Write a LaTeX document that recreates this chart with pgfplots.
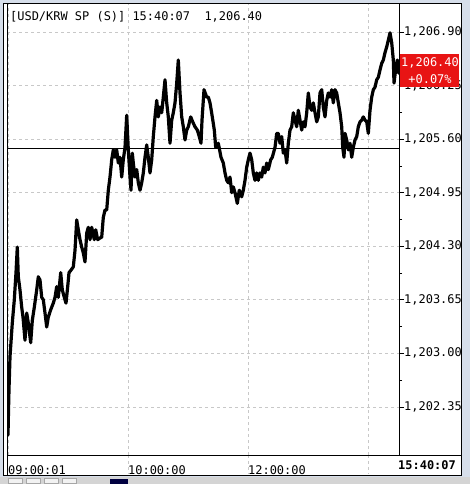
\documentclass[border=0pt]{standalone}
\usepackage{fontspec}
\setmainfont{DejaVu Sans Mono}
\usepackage{pgfplots}
\pgfplotsset{compat=1.18}
\definecolor{outerbg}{RGB}{214,222,234}
\definecolor{stripbg}{RGB}{212,212,212}
\definecolor{gridc}{RGB}{200,200,200}
\definecolor{boxred}{RGB}{232,20,20}
\begin{document}
\begin{tikzpicture}[x=1bp,y=1bp]
\fill[outerbg] (0,0) rectangle (470,484);
\fill[stripbg] (0,0) rectangle (470,7);
\foreach \xx in {8,26,44,62}{\draw[gray!70,line width=0.6bp,fill=white!90!gray] (\xx,0.5) rectangle (\xx+14,6);}
\fill[black!75!blue] (110,0) rectangle (128,5);
\fill[white] (3,8) rectangle (461,480);
\begin{scope}
\clip (3,8) rectangle (461,480);
\begin{axis}[
  at={(7bp,29bp)}, anchor=south west,
  scale only axis, width=392bp, height=451bp,
  xmin=7, xmax=399, ymin=1201.767, ymax=1207.240,
  clip=true,
  separate axis lines,
  axis x line*=bottom, axis y line*=right,
  axis line style={black, line width=0.9bp},
  xtick={8,128,248,368},
  xticklabels={09:00:01,10:00:00,12:00:00,{}},
  xtick style={draw=none},
  xticklabel style={anchor=west, inner sep=0pt, yshift=-10bp, xshift=0bp},
  ytick={1202.35,1203.00,1203.65,1204.30,1204.95,1205.60,1206.25,1206.90},
  minor ytick={1202.675,1203.325,1203.975,1204.625,1205.275,1205.925,1206.575},
  ytick pos=right,
  tick align=outside,
  major tick length=5bp,
  minor tick length=3bp,
  ytick style={black, line width=0.8bp},
  minor tick style={gray!60, line width=0.8bp},
  yticklabel style={anchor=west, inner sep=0pt, xshift=0bp},
  yticklabel pos=right,
  /pgf/number format/.cd, fixed, fixed zerofill, precision=2, 1000 sep={,}, assume math mode=true,
  /pgfplots/.cd,
  tick label style={font=\fontsize{12}{13}\selectfont},
  xmajorgrids, ymajorgrids,
  major grid style={gridc, dash pattern=on 3bp off 3bp, line width=0.9bp},
]
\addplot[black, line width=0.9bp] coordinates {(7,1205.49) (399,1205.49)};
\addplot[black, line width=3.2bp, line join=round, line cap=round] coordinates {
(8,1202.01) (8.5,1202.30) (9,1202.56) (10,1202.96) (12.3,1203.37) (14.3,1203.65)
(16,1203.98) (17.3,1204.29) (18.3,1203.93) (20,1203.77) (21.7,1203.56) (23,1203.44)
(25,1203.16) (26.7,1203.49) (28.3,1203.37) (30.7,1203.13) (32.3,1203.40) (34.3,1203.56)
(36.7,1203.77) (38.3,1203.93) (40,1203.89) (41.7,1203.68) (43.3,1203.65) (45,1203.49)
(46.7,1203.32) (48.3,1203.44) (50.7,1203.53) (53.3,1203.61) (55,1203.68) (56.7,1203.81)
(58.3,1203.68) (60.7,1203.98) (62.3,1203.77) (64.3,1203.68) (66,1203.61) (67.7,1203.81)
(69,1203.98) (71,1204.01) (73.3,1204.05) (75,1204.25) (76.7,1204.62) (78.3,1204.50)
(80,1204.38) (81.7,1204.29) (83.3,1204.22) (85,1204.11) (86.7,1204.46) (88.3,1204.53)
(90,1204.38) (91.7,1204.53) (94.3,1204.38) (95.7,1204.50) (97.7,1204.38) (100,1204.40)
(101.7,1204.41) (103.3,1204.65) (105,1204.74) (106.7,1204.74) (108.3,1204.98) (110,1205.14)
(111.7,1205.35) (113.3,1205.47) (115,1205.38) (116.7,1205.47) (118.3,1205.31) (120,1205.38)
(121.7,1205.14) (123.3,1205.35) (125,1205.50) (126.7,1205.89) (128.3,1205.47) (130,1205.14)
(131,1204.98) (132.3,1205.43) (133.3,1205.31) (135,1205.14) (136.7,1205.23) (138.3,1205.07)
(140,1204.98) (141.7,1205.07) (143.3,1205.19) (145,1205.38) (146.7,1205.53) (148.3,1205.38)
(150,1205.19) (151.7,1205.35) (153.3,1205.63) (155,1205.87) (156.7,1206.07) (158.3,1205.87)
(160,1205.99) (161.7,1205.92) (163.3,1206.11) (165,1206.32) (166.7,1206.04) (168.3,1205.87)
(170,1205.55) (171.7,1205.83) (173.3,1205.92) (175,1206.04) (176.7,1206.28) (178.3,1206.56)
(180,1206.16) (181.7,1205.87) (183.3,1205.75) (185,1205.59) (186.7,1205.71) (188.3,1205.75)
(190.7,1205.87) (192.7,1205.81) (195,1205.75) (197.3,1205.71) (199.3,1205.63) (201,1205.55)
(202,1205.83) (204,1206.20) (206.7,1206.11) (208.3,1206.11) (210,1206.04) (212.3,1205.87)
(214.3,1205.71) (215.7,1205.50) (218.3,1205.55) (221,1205.38) (223.3,1205.31) (225,1205.19)
(226.7,1205.10) (228.3,1205.07) (230,1205.14) (231.7,1204.95) (233.3,1205.02) (235,1204.95)
(237.3,1204.82) (239.3,1204.98) (241.7,1204.90) (243.3,1204.98) (245,1205.10) (246.7,1205.26)
(248.3,1205.35) (250,1205.43) (251.7,1205.35) (253.3,1205.19) (255,1205.10) (256.7,1205.19)
(258.3,1205.10) (260,1205.19) (261.7,1205.14) (263.3,1205.26) (265,1205.19) (266.7,1205.31)
(268.3,1205.23) (270.7,1205.35) (272.3,1205.38) (275,1205.50) (276.7,1205.67) (278.3,1205.67)
(280,1205.55) (281.7,1205.63) (283.3,1205.43) (285,1205.47) (286.7,1205.31) (288.3,1205.55)
(290,1205.71) (291.7,1205.75) (293.3,1205.92) (295,1205.83) (296.7,1205.75) (298.3,1205.95)
(300,1205.83) (301.7,1205.71) (303.3,1205.81) (305,1205.75) (306.7,1205.92) (308.3,1206.16)
(310,1205.99) (311.7,1205.95) (313.3,1206.04) (315,1205.92) (316.7,1205.81) (318.3,1205.87)
(320,1206.16) (321.7,1206.20) (323.3,1205.99) (325,1205.87) (326.7,1206.07) (328.3,1206.16)
(330,1206.11) (331.7,1206.20) (333.3,1206.04) (335,1206.20) (336.7,1206.16) (338.3,1206.04)
(340,1205.92) (341.7,1205.75) (342.7,1205.50) (344,1205.38) (345,1205.67) (346.7,1205.59)
(348.3,1205.47) (350,1205.55) (351.7,1205.38) (353.3,1205.50) (355,1205.59) (356.7,1205.63)
(358.3,1205.75) (360,1205.81) (361.7,1205.83) (363.3,1205.87) (365,1205.83) (366.7,1205.81)
(368.3,1205.67) (370,1205.95) (371.7,1206.11) (373.3,1206.20) (375,1206.23) (376.7,1206.32)
(378.3,1206.35) (380,1206.44) (381.7,1206.52) (383.3,1206.56) (385,1206.65) (386.7,1206.72)
(388.3,1206.80) (390,1206.89) (391.7,1206.77) (393.3,1206.56) (394,1206.28) (396,1206.48)
(397.3,1206.56) (398.7,1206.40)
};
\end{axis}
% band grid lines and lines
\foreach \xx in {128,248,368}{\draw[gridc, dash pattern=on 3bp off 3bp, line width=0.9bp] (\xx,29) -- (\xx,10);}
\draw[black, line width=0.9bp] (7,29) -- (461,29);
\draw[black, line width=0.9bp] (7,8) -- (7,480);
% red last-price box
\fill[boxred] (400,397) rectangle (459,430);
\node[white, font=\fontsize{12}{13}\selectfont, anchor=center] at (430,421) {1,206.40};
\node[white, font=\fontsize{12}{13}\selectfont, anchor=center] at (430,405) {+0.07\%};
\node[anchor=east, inner sep=0pt, font=\fontsize{12}{13}\selectfont\bfseries] at (456,19) {15:40:07};
\node[anchor=west, inner sep=0pt, font=\fontsize{12}{13}\selectfont] at (10,467) {[USD/KRW SP (S)] 15:40:07\ \ 1,206.40};
\end{scope}
\draw[black, line width=1bp] (3,8) rectangle (461,480);
\end{tikzpicture}
\end{document}
